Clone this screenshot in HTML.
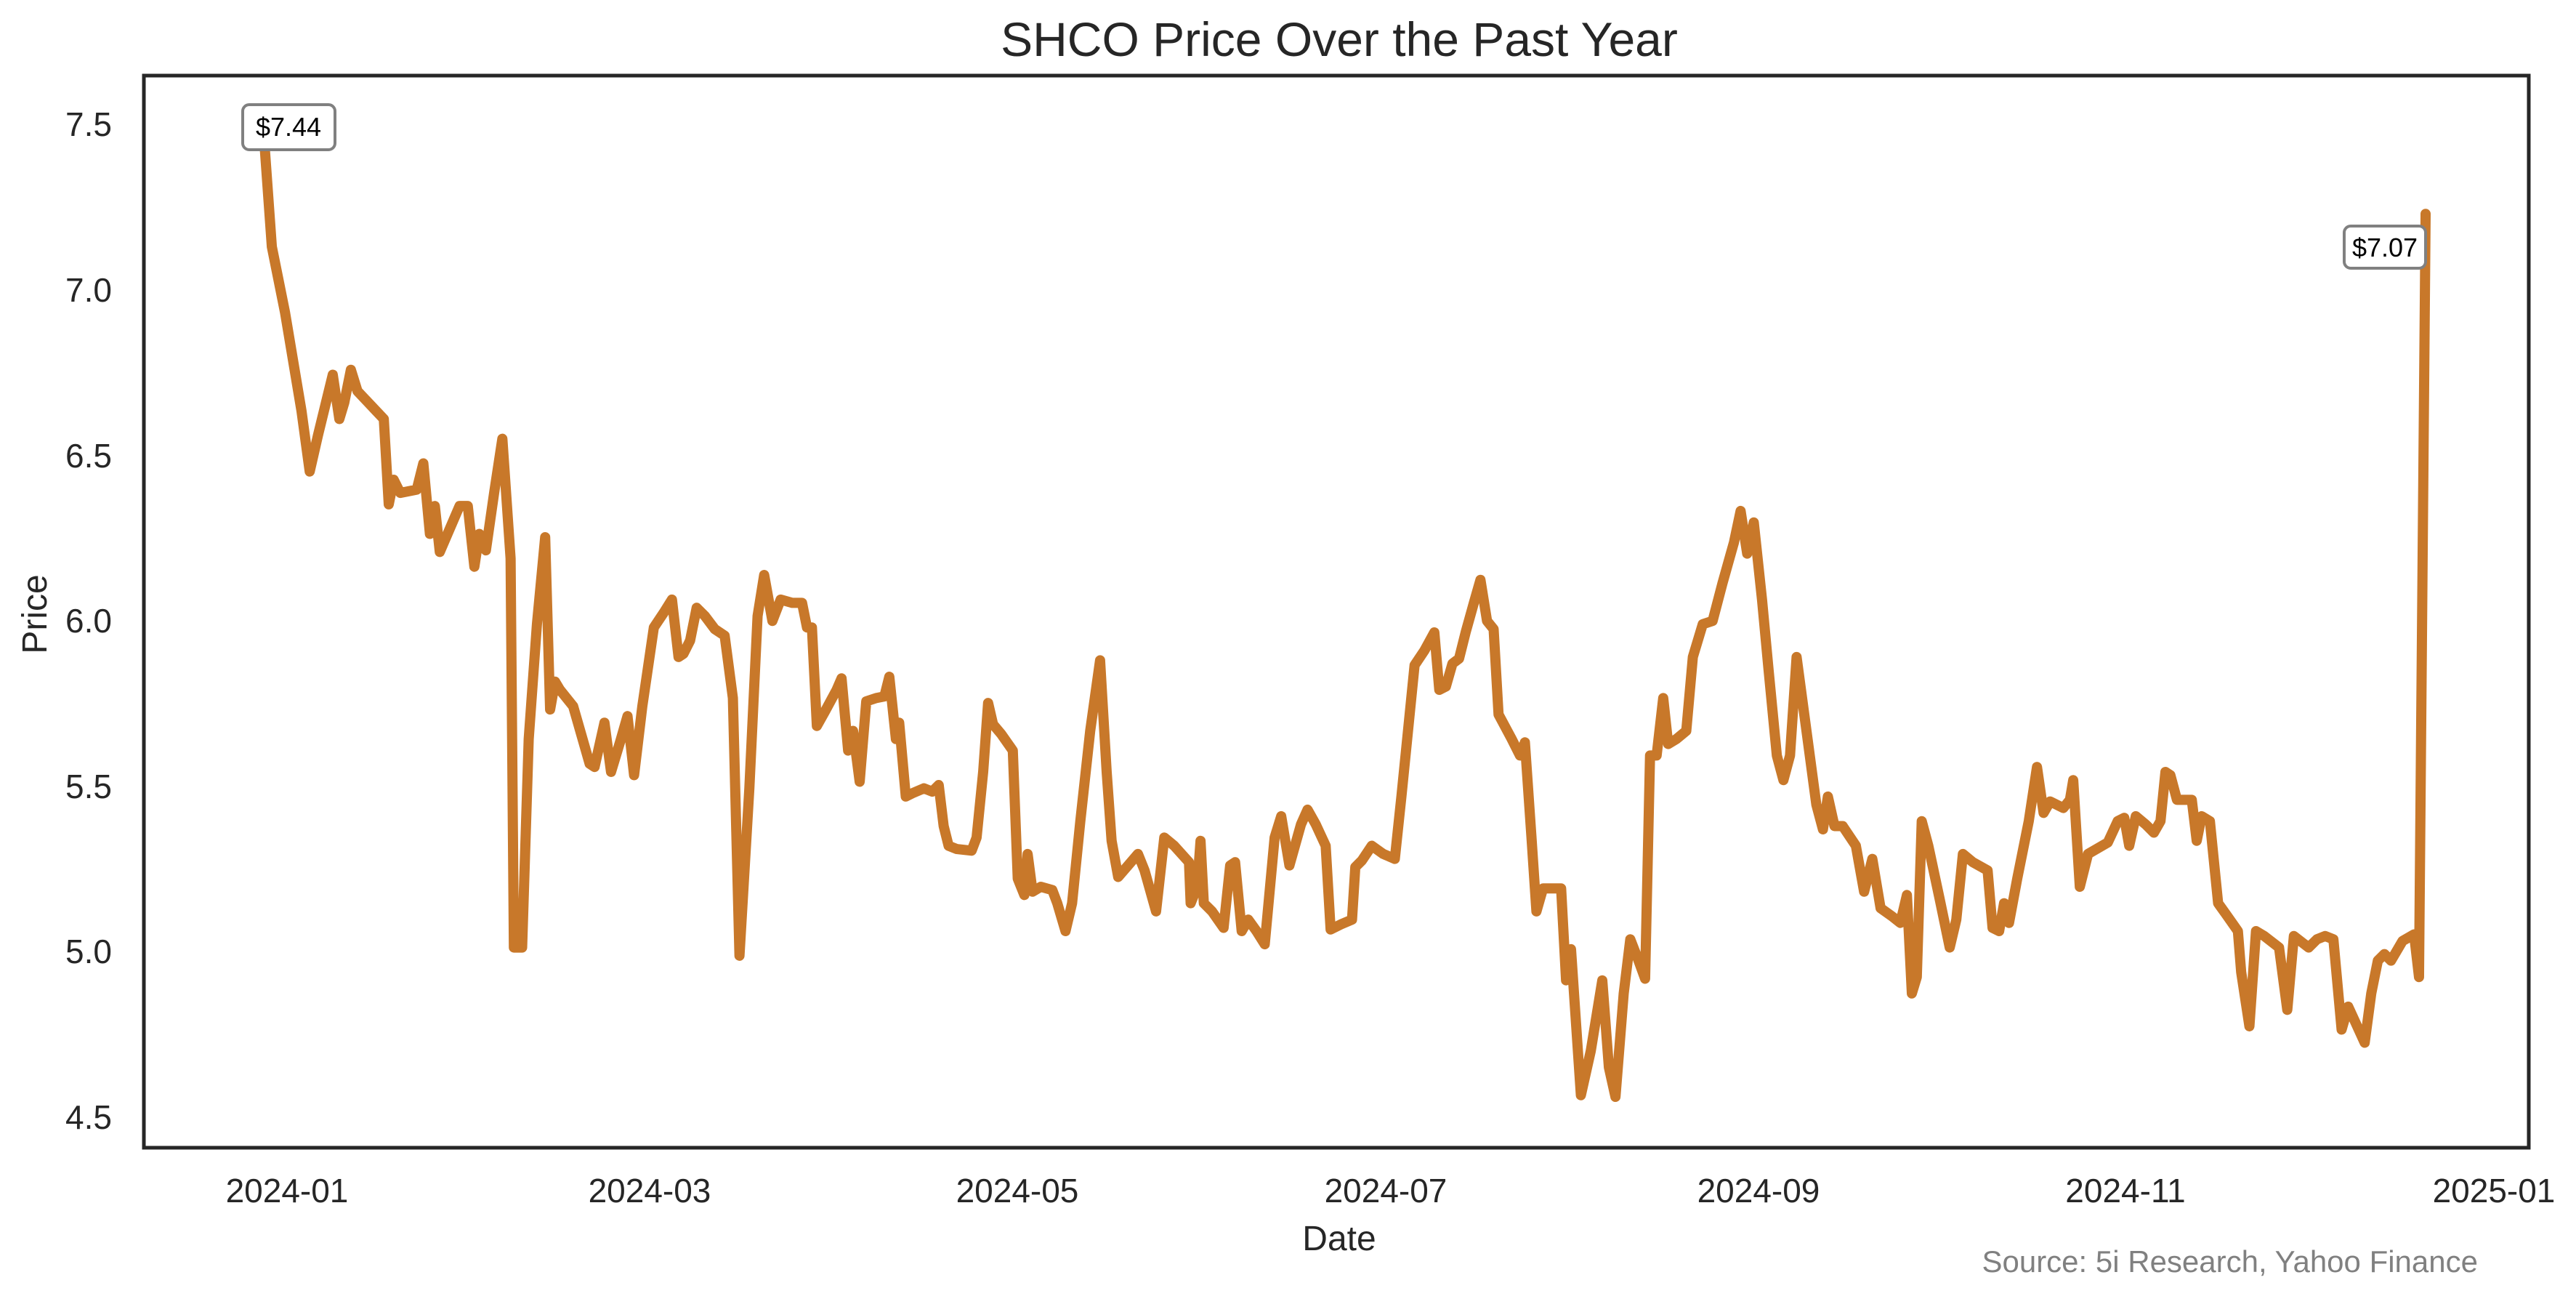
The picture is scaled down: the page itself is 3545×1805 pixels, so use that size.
<!DOCTYPE html>
<html><head><meta charset="utf-8"><style>
html,body{margin:0;padding:0;background:#fff;}
svg{display:block;font-family:"Liberation Sans",Arial,sans-serif;}
</style></head><body>
<svg width="3545" height="1805" viewBox="0 0 3545 1805" xmlns="http://www.w3.org/2000/svg">
<rect width="3545" height="1805" fill="#fff"/>
<text x="1843" y="77" font-size="66" text-anchor="middle" fill="#262626">SHCO Price Over the Past Year</text>
<g font-size="46" fill="#262626" text-anchor="end">
<text x="154" y="187">7.5</text>
<text x="154" y="415">7.0</text>
<text x="154" y="643">6.5</text>
<text x="154" y="870">6.0</text>
<text x="154" y="1098">5.5</text>
<text x="154" y="1325">5.0</text>
<text x="154" y="1553">4.5</text>
</g>
<g font-size="46" fill="#262626" text-anchor="middle">
<text x="395" y="1654">2024-01</text>
<text x="894" y="1654">2024-03</text>
<text x="1400" y="1654">2024-05</text>
<text x="1907" y="1654">2024-07</text>
<text x="2420" y="1654">2024-09</text>
<text x="2925" y="1654">2024-11</text>
<text x="3432" y="1654">2025-01</text>
</g>
<text x="1843" y="1720" font-size="48" text-anchor="middle" fill="#262626">Date</text>
<text transform="translate(64,845) rotate(-90)" font-size="48" text-anchor="middle" fill="#262626">Price</text>
<text x="3410" y="1750" font-size="42" text-anchor="end" fill="#808080">Source: 5i Research, Yahoo Finance</text>
<g transform="matrix(2.266,0,0,2.258,7,0.7)">
<polyline fill="none" stroke="#c8782a" stroke-width="14" vector-effect="non-scaling-stroke" stroke-linejoin="round" stroke-linecap="round" points="157,80 162,150 170,190 180,250 185,287 190,265 199,228 203,255 206,245 210,225 214,238 230,255 233,307 236,292 240,300 250,298 254,282 258,325 261,308 264,336 270,322 276,308 281,308 285,345 288,325 292,335 297,300 302,267 307,340 309,577 314,577 318,450 323,380 328,327 331,432 334,415 337,420 345,430 355,465 358,467 364,440 368,470 374,450 378,436 382,472 387,430 394,382 400,373 405,365 409,400 412,398 416,390 420,370 425,375 431,383 437,387 442,425 446,582 452,480 457,375 461,350 466,378 471,365 478,367 484,367 487,382 490,382 493,442 498,433 505,420 508,413 512,457 515,445 519,476 523,427 529,425 534,424 537,412 541,450 543,440 547,485 551,483 558,480 563,482 567,478 570,503 573,515 578,517 587,518 590,510 594,470 597,428 600,441 605,447 612,457 615,535 619,545 621,520 624,543 629,540 636,542 639,550 644,567 648,550 653,500 659,445 665,402 669,470 672,512 676,534 682,527 688,520 692,530 699,555 704,510 710,515 719,525 720,550 724,540 726,512 728,550 733,555 740,565 744,527 747,525 751,567 755,560 760,567 765,575 771,510 775,497 780,527 787,502 791,493 796,502 802,515 805,566 811,563 818,560 820,528 824,524 830,515 837,520 844,523 848,485 856,405 862,396 868,385 871,420 875,418 879,404 883,401 887,385 892,367 896,353 900,378 904,383 907,435 915,450 920,460 923,452 927,510 930,555 934,541 945,541 948,597 951,578 957,667 963,640 970,597 974,650 978,668 983,605 987,572 992,585 996,596 999,460 1003,460 1007,425 1010,453 1015,450 1021,445 1025,400 1031,380 1037,378 1043,355 1050,330 1054,311 1058,337 1062,318 1067,365 1071,408 1076,460 1080,475 1084,460 1088,400 1092,430 1096,460 1100,490 1104,505 1107,485 1111,503 1116,503 1124,515 1129,543 1134,523 1139,553 1146,558 1151,562 1155,545 1158,605 1161,595 1164,500 1168,515 1175,548 1181,577 1185,560 1189,520 1195,525 1204,530 1207,565 1211,567 1214,550 1217,562 1222,535 1229,500 1234,467 1238,495 1242,488 1250,492 1254,487 1256,475 1260,540 1265,520 1277,513 1283,500 1287,498 1290,515 1294,497 1300,502 1305,507 1309,500 1312,470 1315,472 1319,487 1328,487 1331,512 1334,497 1339,500 1344,550 1349,557 1356,567 1358,592 1363,625 1367,567 1372,570 1381,577 1386,615 1390,570 1399,577 1404,572 1409,570 1414,572 1419,627 1423,613 1433,635 1437,605 1441,585 1445,581 1449,585 1456,573 1463,569 1466,595 1470,130"/>
</g>
<rect x="198" y="104" width="3282" height="1475" fill="none" stroke="#262626" stroke-width="5"/>
<rect x="334" y="144" width="127" height="62" rx="9" fill="#fff" stroke="#808080" stroke-width="4"/>
<text x="397" y="187" font-size="36" text-anchor="middle" fill="#000">$7.44</text>
<rect x="3226" y="311" width="112" height="58" rx="9" fill="#fff" stroke="#808080" stroke-width="4"/>
<text x="3282" y="353" font-size="36" text-anchor="middle" fill="#000">$7.07</text>
</svg>
</body></html>
